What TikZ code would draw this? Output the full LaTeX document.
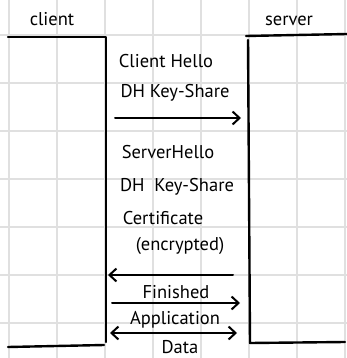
\documentclass[tikz,border=0pt]{standalone}
\usepackage{fontspec}
\setmainfont{PT Sans}
\usetikzlibrary{arrows.meta}
\begin{document}
\begin{tikzpicture}[x=1pt,y=-1pt,
  grid/.style={draw=black!12,line width=1.2pt},
  edge/.style={draw=black,line width=2.4pt,line cap=round,line join=round},
  msg/.style={draw=black,line width=2pt,line cap=round},
  tip/.style={-{Straight Barb[length=7pt,width=13pt,line width=2pt]}},
  lbl/.style={font=\fontsize{18.5}{20}\selectfont,inner sep=0pt}]
\useasboundingbox (0,0) rectangle (347,358);
\fill[white] (0,0) rectangle (347,358);
% grid
\foreach \x in {9,57,105,153,201,249,297,345} \draw[grid] (\x,0) -- (\x,358);
\foreach \y in {35,83,131,179,227,275,323} \draw[grid] (0,\y) -- (347,\y);
% client and server bars
\draw[edge] (8,37) -- (106,37) -- (106,342);
\draw[edge] (8,347) -- (104,345);
\draw[edge] (246,36) -- (347,34);
\draw[edge] (248,40) -- (250,343) -- (345,342);
% labels
\node[lbl] (client) at (52,19) {client};
\node[lbl] (server) at (289,21) {server};
\node[lbl] (ch) at (166,61) {Client Hello};
\node[lbl] (dh1) at (175,93) {DH Key-Share};
\node[lbl] (sh) at (168,152) {ServerHello};
\node[lbl] (dh2) at (177,187) {DH\ \ Key-Share};
\node[lbl] (cert) at (163,218) {Certificate};
\node[lbl] (enc) at (180,246) {(encrypted)};
\node[lbl] (fin) at (176,292) {Finished};
\node[lbl] (app) at (175,320) {Application};
\node[lbl] (data) at (180,347) {Data};
% arrow endpoints
\coordinate (a1s) at (115,118); \coordinate (a1e) at (241,118);
\coordinate (a2s) at (233,275); \coordinate (a2e) at (108,275);
\coordinate (a3s) at (112,303); \coordinate (a3e) at (240,303);
\coordinate (a4s) at (110,333); \coordinate (a4e) at (237,333);
\draw[msg,tip] (a1s) -- (a1e);
\draw[msg,tip] (a2s) -- (a2e);
\draw[msg,tip] (a3s) -- (a3e);
\draw[msg,{Straight Barb[length=7pt,width=13pt,line width=2pt]}-{Straight Barb[length=7pt,width=13pt,line width=2pt]}] (a4s) -- (a4e);
\end{tikzpicture}
\end{document}
